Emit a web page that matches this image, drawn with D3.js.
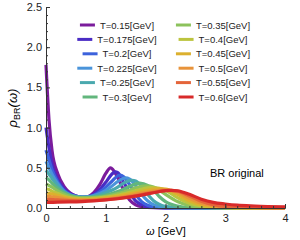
<!DOCTYPE html>
<meta charset="utf-8">
<script src="https://d3js.org/d3.v7.min.js"></script>
<style>
  body { margin: 0; background: white; }
  text { font-family: "Liberation Sans", Arial, sans-serif; }
</style>
<div id="chart"></div>
<script>

// temperatures (legend labels) and line colours
var temps = ["0.15", "0.175", "0.2", "0.225", "0.25", "0.3", "0.35", "0.4", "0.45", "0.5", "0.55", "0.6"];
var colors = ["#7b1c9c", "#4a2cc4", "#3c62dc", "#4a94da", "#4aa9ae", "#62b67c",
              "#8cc25c", "#bcc43e", "#dcb02e", "#e8933a", "#e4653a", "#d82a2a"];

// spectral functions, [omega, rho]
var rho015 = [[0,1.78],[0.05,1.1],[0.1,0.72],[0.2,0.42],[0.3,0.27],[0.4,0.19],[0.5,0.15],[0.6,0.13],[0.7,0.14],[0.8,0.19],[0.9,0.29],[1.0,0.43],[1.08,0.5],[1.2,0.38],[1.3,0.22],[1.4,0.1],[1.5,0.04],[1.6,0.015],[1.8,0.003],[2.0,0.001],[4.0,0]];
var rho0175 = [[0,1.0],[0.05,0.75],[0.1,0.55],[0.2,0.35],[0.3,0.24],[0.4,0.18],[0.5,0.15],[0.6,0.135],[0.7,0.14],[0.8,0.17],[0.9,0.23],[1.0,0.32],[1.1,0.42],[1.16,0.45],[1.2,0.44],[1.3,0.32],[1.4,0.19],[1.5,0.09],[1.6,0.04],[1.7,0.015],[1.8,0.006],[2.0,0.002],[4.0,0]];
var rho02 = [[0,0.72],[0.05,0.6],[0.1,0.48],[0.2,0.32],[0.3,0.22],[0.4,0.17],[0.5,0.145],[0.6,0.135],[0.7,0.14],[0.8,0.16],[0.9,0.2],[1.0,0.26],[1.1,0.33],[1.2,0.4],[1.24,0.41],[1.3,0.39],[1.4,0.29],[1.5,0.17],[1.6,0.08],[1.7,0.035],[1.8,0.015],[2.0,0.003],[4.0,0]];
var rho0225 = [[0,0.58],[0.05,0.5],[0.1,0.42],[0.2,0.3],[0.3,0.21],[0.4,0.165],[0.5,0.145],[0.6,0.135],[0.7,0.14],[0.8,0.155],[0.9,0.18],[1.0,0.22],[1.1,0.27],[1.2,0.33],[1.3,0.37],[1.33,0.375],[1.4,0.36],[1.5,0.28],[1.6,0.17],[1.7,0.09],[1.8,0.04],[1.9,0.018],[2.0,0.008],[2.2,0.002],[4.0,0]];
var rho025 = [[0,0.47],[0.05,0.42],[0.1,0.37],[0.2,0.27],[0.3,0.2],[0.4,0.16],[0.5,0.14],[0.6,0.135],[0.7,0.135],[0.8,0.145],[0.9,0.165],[1.0,0.19],[1.1,0.22],[1.2,0.26],[1.3,0.31],[1.4,0.34],[1.44,0.345],[1.5,0.335],[1.6,0.27],[1.7,0.17],[1.8,0.09],[1.9,0.045],[2.0,0.02],[2.2,0.005],[4.0,0]];
var rho03 = [[0,0.38],[0.05,0.35],[0.1,0.31],[0.2,0.24],[0.3,0.19],[0.4,0.155],[0.5,0.14],[0.6,0.13],[0.7,0.13],[0.8,0.135],[0.9,0.145],[1.0,0.16],[1.1,0.18],[1.2,0.205],[1.3,0.235],[1.4,0.27],[1.5,0.3],[1.57,0.31],[1.7,0.28],[1.8,0.22],[1.9,0.14],[2.0,0.08],[2.2,0.025],[2.4,0.008],[4.0,0]];
var rho035 = [[0,0.3],[0.05,0.28],[0.1,0.26],[0.2,0.21],[0.3,0.17],[0.4,0.145],[0.5,0.13],[0.6,0.125],[0.7,0.125],[0.8,0.13],[0.9,0.135],[1.0,0.145],[1.1,0.16],[1.2,0.18],[1.3,0.2],[1.4,0.225],[1.5,0.25],[1.6,0.27],[1.68,0.275],[1.8,0.26],[1.9,0.22],[2.0,0.17],[2.2,0.08],[2.4,0.03],[2.6,0.01],[3.0,0.002],[4.0,0]];
var rho04 = [[0,0.24],[0.05,0.23],[0.1,0.21],[0.2,0.18],[0.3,0.15],[0.4,0.13],[0.5,0.12],[0.6,0.115],[0.7,0.115],[0.8,0.12],[0.9,0.125],[1.0,0.135],[1.1,0.145],[1.2,0.16],[1.3,0.175],[1.4,0.195],[1.5,0.215],[1.6,0.235],[1.7,0.25],[1.78,0.255],[1.9,0.245],[2.0,0.22],[2.2,0.13],[2.4,0.06],[2.6,0.025],[2.8,0.01],[3.2,0.002],[4.0,0]];
var rho045 = [[0,0.19],[0.1,0.175],[0.2,0.155],[0.3,0.135],[0.4,0.12],[0.5,0.11],[0.6,0.105],[0.7,0.105],[0.8,0.11],[0.9,0.115],[1.0,0.125],[1.1,0.135],[1.2,0.145],[1.3,0.16],[1.4,0.175],[1.5,0.19],[1.6,0.205],[1.7,0.22],[1.8,0.235],[1.88,0.24],[2.0,0.235],[2.2,0.17],[2.4,0.09],[2.6,0.04],[2.8,0.018],[3.0,0.008],[3.5,0.001],[4.0,0]];
var rho05 = [[0,0.15],[0.1,0.14],[0.2,0.13],[0.3,0.115],[0.4,0.105],[0.5,0.1],[0.6,0.097],[0.7,0.097],[0.8,0.1],[0.9,0.105],[1.0,0.112],[1.2,0.13],[1.4,0.155],[1.6,0.185],[1.8,0.21],[1.9,0.22],[1.98,0.225],[2.1,0.22],[2.2,0.2],[2.4,0.12],[2.6,0.06],[2.8,0.028],[3.0,0.013],[3.5,0.003],[4.0,0.001]];
var rho055 = [[0,0.11],[0.2,0.1],[0.4,0.092],[0.6,0.09],[0.8,0.093],[1.0,0.103],[1.2,0.12],[1.4,0.142],[1.6,0.168],[1.8,0.195],[2.0,0.215],[2.06,0.218],[2.2,0.21],[2.4,0.15],[2.6,0.085],[2.8,0.042],[3.0,0.02],[3.5,0.006],[4.0,0.002]];
var rho06 = [[0,0.07],[0.2,0.072],[0.4,0.075],[0.6,0.08],[0.8,0.088],[1.0,0.1],[1.2,0.115],[1.4,0.135],[1.6,0.16],[1.8,0.19],[2.0,0.215],[2.1,0.22],[2.2,0.215],[2.4,0.17],[2.6,0.11],[2.8,0.07],[3.0,0.05],[3.2,0.035],[3.5,0.025],[4.0,0.015]];

var curves = [rho015, rho0175, rho02, rho0225, rho025, rho03, rho035, rho04, rho045, rho05, rho055, rho06];

var xTicks = [0, 1, 2, 3, 4];
var yTicks = [0, 0.5, 1.0, 1.5, 2.0, 2.5];

var W = 300, H = 240;
var svg = d3.select("#chart").append("svg")
    .attr("width", W).attr("height", H);

var x = d3.scaleLinear().domain([0, 4]).range([46, 285]);
var y = d3.scaleLinear().domain([0, 2.5]).range([208, 7]);

// curves first, axes over them
var line = d3.line()
    .x(function (d) { return x(d[0]); })
    .y(function (d) { return y(d[1]); })
    .curve(d3.curveMonotoneX);

svg.append("g")
  .selectAll("path")
  .data(curves)
  .join("path")
    .attr("d", line)
    .attr("fill", "none")
    .attr("stroke", function (d, i) { return colors[i]; })
    .attr("stroke-width", 3.2)
    .attr("stroke-linejoin", "round");

// x axis: major ticks + minor ticks, pointing inward
var xAxis = svg.append("g").attr("transform", "translate(0,208)");
xAxis.call(d3.axisBottom(x).tickValues(xTicks).tickFormat(d3.format("d")).tickSize(-4).tickPadding(6));
xAxis.append("g").call(d3.axisBottom(x).tickValues(d3.range(0, 4.01, 0.2)).tickFormat("").tickSize(-2))
  .select(".domain").remove();

var yAxis = svg.append("g").attr("transform", "translate(46,0)");
yAxis.call(d3.axisLeft(y).tickValues(yTicks).tickFormat(d3.format(".1f")).tickSize(-4).tickPadding(4));
yAxis.append("g").call(d3.axisLeft(y).tickValues(d3.range(0, 2.51, 0.1)).tickFormat("").tickSize(-2))
  .select(".domain").remove();

svg.selectAll(".tick text").style("font-size", "11px").attr("fill", "#222");
svg.selectAll(".domain, .tick line").attr("stroke", "#333");

// axis labels
svg.append("text")
    .attr("x", 166).attr("y", 235)
    .attr("text-anchor", "middle")
    .style("font-size", "11px")
    .html('<tspan font-style="italic">ω</tspan> [GeV]');

svg.append("text")
    .attr("transform", "translate(17,108) rotate(-90)")
    .attr("text-anchor", "middle")
    .style("font-size", "13px")
    .html('<tspan font-style="italic">ρ</tspan><tspan font-size="9px" dy="3">BR</tspan><tspan dy="-3" font-style="italic">(ω)</tspan>');

svg.append("text")
    .attr("x", 210).attr("y", 177)
    .style("font-size", "11px")
    .text("BR original");

// legend: two columns, each entry centred
var legend = svg.append("g");
temps.forEach(function (t, i) {
  var col = Math.floor(i / 6), row = i % 6;
  var cx = col === 0 ? 117 : 213;
  var cy = 25 + row * 14.4;
  var g = legend.append("g");
  var txt = g.append("text")
      .attr("x", 20).attr("y", cy + 3.5)
      .style("font-size", "9.5px")
      .attr("fill", "#222")
      .text("T=" + t + "[GeV]");
  g.append("line")
      .attr("x1", 0).attr("x2", 15)
      .attr("y1", cy).attr("y2", cy)
      .attr("stroke", colors[i])
      .attr("stroke-width", 3);
  var w = 20 + txt.node().getComputedTextLength();
  g.attr("transform", "translate(" + (cx - w / 2) + ",0)");
});

</script>
